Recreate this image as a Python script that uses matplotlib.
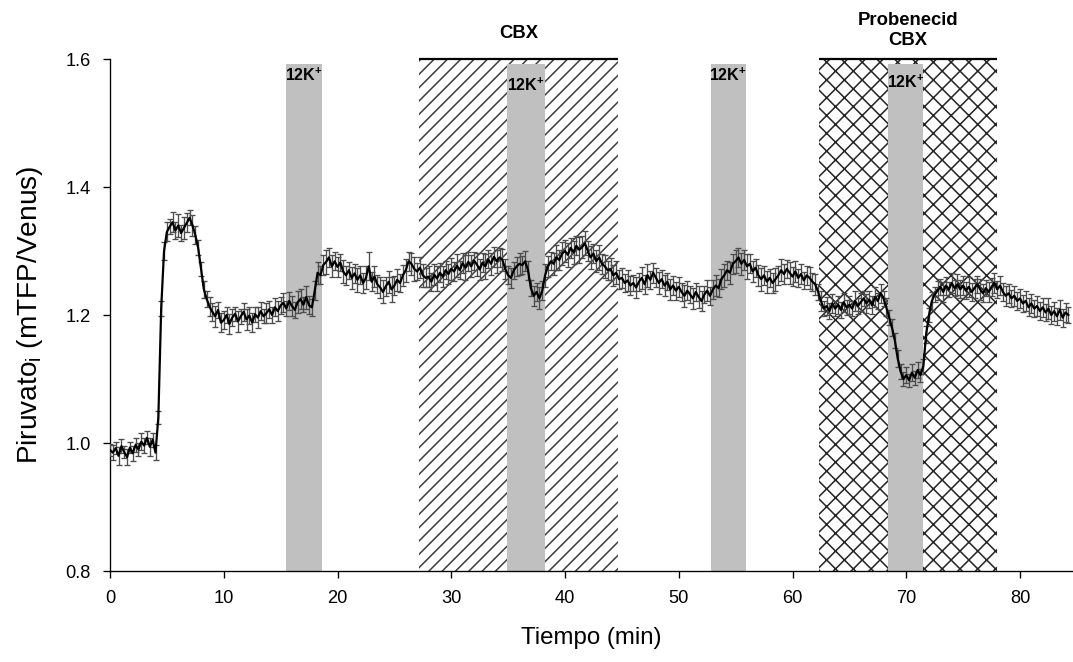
import matplotlib
matplotlib.use("Agg")
import matplotlib.pyplot as plt
import numpy as np

plt.rcParams["font.family"] = ["Liberation Sans", "DejaVu Sans"]
plt.rcParams["mathtext.fontset"] = "custom"
plt.rcParams["mathtext.rm"] = "Liberation Sans"
plt.rcParams["mathtext.bf"] = "Liberation Sans:bold"
plt.rcParams["hatch.linewidth"] = 0.7

dt = 0.25  # min between samples

piruvato = [
    0.989, 0.985, 0.992, 0.980, 0.995, 0.986, 0.978, 0.993, 0.984, 0.997, 0.990, 1.002, 0.996, 1.008, 0.994, 1.005, 0.985, 1.040, 1.210, 1.300,
    1.330, 1.338, 1.345, 1.332, 1.340, 1.328, 1.336, 1.344, 1.352, 1.340, 1.325, 1.305, 1.272, 1.240, 1.225, 1.213, 1.205, 1.198, 1.208, 1.188,
    1.192, 1.200, 1.186, 1.196, 1.202, 1.190, 1.198, 1.205, 1.193, 1.199, 1.188, 1.201, 1.196, 1.206, 1.198, 1.203, 1.209, 1.200, 1.212, 1.206,
    1.215, 1.219, 1.210, 1.222, 1.214, 1.208, 1.220, 1.225, 1.216, 1.228, 1.215, 1.212, 1.238, 1.266, 1.262, 1.278, 1.283, 1.290, 1.276, 1.284,
    1.275, 1.282, 1.268, 1.262, 1.270, 1.258, 1.265, 1.255, 1.262, 1.250, 1.258, 1.276, 1.252, 1.260, 1.248, 1.243, 1.236, 1.245, 1.252, 1.240,
    1.246, 1.255, 1.250, 1.262, 1.270, 1.284, 1.280, 1.272, 1.268, 1.274, 1.262, 1.258, 1.260, 1.252, 1.263, 1.257, 1.266, 1.260, 1.270, 1.264,
    1.272, 1.268, 1.277, 1.270, 1.281, 1.274, 1.283, 1.276, 1.285, 1.279, 1.271, 1.282, 1.276, 1.287, 1.280, 1.291, 1.284, 1.290, 1.286, 1.272,
    1.262, 1.258, 1.270, 1.276, 1.280, 1.278, 1.284, 1.270, 1.242, 1.230, 1.236, 1.226, 1.238, 1.262, 1.276, 1.284, 1.280, 1.290, 1.286, 1.296,
    1.300, 1.294, 1.305, 1.298, 1.308, 1.302, 1.306, 1.312, 1.300, 1.290, 1.296, 1.284, 1.290, 1.280, 1.276, 1.270, 1.272, 1.262, 1.266, 1.256,
    1.258, 1.250, 1.254, 1.246, 1.250, 1.243, 1.252, 1.258, 1.248, 1.262, 1.255, 1.266, 1.258, 1.250, 1.256, 1.246, 1.252, 1.240, 1.246, 1.238,
    1.244, 1.236, 1.230, 1.238, 1.232, 1.226, 1.236, 1.228, 1.222, 1.232, 1.238, 1.230, 1.240, 1.246, 1.242, 1.256, 1.262, 1.270, 1.266, 1.280,
    1.284, 1.290, 1.280, 1.286, 1.276, 1.280, 1.268, 1.274, 1.262, 1.256, 1.262, 1.252, 1.258, 1.250, 1.256, 1.262, 1.270, 1.264, 1.272, 1.266,
    1.260, 1.268, 1.258, 1.264, 1.254, 1.262, 1.258, 1.252, 1.248, 1.236, 1.222, 1.210, 1.214, 1.206, 1.218, 1.210, 1.216, 1.208, 1.220, 1.212,
    1.216, 1.210, 1.222, 1.214, 1.220, 1.226, 1.218, 1.224, 1.215, 1.228, 1.222, 1.234, 1.226, 1.212, 1.196, 1.180, 1.160, 1.132, 1.112, 1.100,
    1.106, 1.098, 1.110, 1.102, 1.114, 1.106, 1.120, 1.170, 1.200, 1.222, 1.232, 1.238, 1.244, 1.236, 1.246, 1.240, 1.250, 1.242, 1.248, 1.240,
    1.246, 1.238, 1.244, 1.236, 1.242, 1.248, 1.240, 1.234, 1.242, 1.236, 1.244, 1.250, 1.240, 1.246, 1.236, 1.230, 1.234, 1.226, 1.230, 1.222,
    1.226, 1.218, 1.222, 1.212, 1.218, 1.210, 1.214, 1.206, 1.212, 1.204, 1.210, 1.200, 1.206, 1.198, 1.208, 1.196, 1.204, 1.200,
]

error = [
    0.010, 0.012, 0.009, 0.014, 0.011, 0.010, 0.013, 0.009, 0.012, 0.011, 0.010, 0.013, 0.012, 0.010, 0.014, 0.011, 0.012, 0.010, 0.012, 0.014,
    0.015, 0.012, 0.016, 0.014, 0.018, 0.013, 0.017, 0.015, 0.012, 0.016, 0.014, 0.012, 0.011, 0.013, 0.012, 0.015, 0.014, 0.016, 0.013, 0.015,
    0.014, 0.012, 0.015, 0.013, 0.011, 0.016, 0.012, 0.014, 0.017, 0.013, 0.015, 0.012, 0.016, 0.014, 0.011, 0.015, 0.013, 0.012, 0.014, 0.016,
    0.013, 0.015, 0.012, 0.014, 0.016, 0.013, 0.017, 0.015, 0.012, 0.018, 0.014, 0.013, 0.015, 0.017, 0.014, 0.016, 0.019, 0.015, 0.017, 0.014,
    0.016, 0.014, 0.018, 0.015, 0.013, 0.017, 0.015, 0.019, 0.014, 0.016, 0.018, 0.022, 0.015, 0.017, 0.014, 0.016, 0.018, 0.015, 0.017, 0.019,
    0.015, 0.017, 0.014, 0.016, 0.018, 0.015, 0.017, 0.019, 0.014, 0.016, 0.018, 0.015, 0.017, 0.014, 0.016, 0.019, 0.015, 0.017, 0.014, 0.016,
    0.017, 0.015, 0.018, 0.014, 0.016, 0.019, 0.015, 0.017, 0.014, 0.018, 0.016, 0.015, 0.019, 0.014, 0.017, 0.016, 0.018, 0.015, 0.017, 0.016,
    0.014, 0.016, 0.013, 0.015, 0.017, 0.014, 0.016, 0.015, 0.013, 0.016, 0.014, 0.017, 0.015, 0.018, 0.016, 0.014, 0.017, 0.019, 0.015, 0.018,
    0.017, 0.019, 0.016, 0.018, 0.015, 0.020, 0.017, 0.019, 0.016, 0.018, 0.015, 0.017, 0.019, 0.016, 0.018, 0.015, 0.017, 0.016, 0.018, 0.015,
    0.016, 0.014, 0.017, 0.015, 0.013, 0.016, 0.014, 0.017, 0.015, 0.018, 0.014, 0.016, 0.015, 0.017, 0.014, 0.016, 0.013, 0.017, 0.015, 0.014,
    0.016, 0.014, 0.017, 0.015, 0.013, 0.016, 0.014, 0.017, 0.015, 0.013, 0.016, 0.014, 0.015, 0.017, 0.014, 0.016, 0.018, 0.015, 0.017, 0.016,
    0.018, 0.015, 0.017, 0.016, 0.019, 0.015, 0.017, 0.014, 0.016, 0.018, 0.015, 0.017, 0.014, 0.016, 0.018, 0.015, 0.017, 0.016, 0.014, 0.017,
    0.015, 0.017, 0.014, 0.016, 0.013, 0.015, 0.017, 0.014, 0.016, 0.013, 0.015, 0.012, 0.014, 0.013, 0.015, 0.012, 0.014, 0.013, 0.015, 0.012,
    0.014, 0.012, 0.015, 0.013, 0.014, 0.012, 0.015, 0.013, 0.014, 0.016, 0.013, 0.015, 0.012, 0.014, 0.012, 0.013, 0.012, 0.014, 0.012, 0.011,
    0.012, 0.010, 0.013, 0.011, 0.012, 0.010, 0.012, 0.013, 0.011, 0.014, 0.012, 0.015, 0.013, 0.016, 0.014, 0.012, 0.015, 0.013, 0.016, 0.014,
    0.015, 0.013, 0.016, 0.014, 0.015, 0.013, 0.016, 0.014, 0.013, 0.015, 0.014, 0.016, 0.013, 0.015, 0.014, 0.016, 0.015, 0.013, 0.016, 0.014,
    0.015, 0.013, 0.016, 0.014, 0.015, 0.013, 0.016, 0.014, 0.015, 0.013, 0.016, 0.014, 0.015, 0.013, 0.016, 0.014, 0.015, 0.013,
]

# treatment periods (min)
k_pulses = [(15.5, 18.6), (34.9, 38.2), (52.8, 55.9), (68.4, 71.5)]
k_label_y = [1.575, 1.559, 1.575, 1.564]
cbx = (27.2, 44.7)
probenecid_cbx = (62.3, 78.0)


def main():
    W, H, dpi = 1073, 662, 160
    tiempo = np.arange(len(piruvato)) * dt

    fig = plt.figure(figsize=(W / dpi, H / dpi), dpi=dpi)
    ax = fig.add_axes([110 / W, 1 - 571 / H, 963 / W, 512 / H])
    ax.set_xlim(0, 963 / 11.375)
    ax.set_ylim(0.8, 1.6)

    # drug periods, hatched
    ax.axvspan(*cbx, facecolor="white", edgecolor="0.25", hatch="////", linewidth=0, zorder=0.5)
    ax.axvspan(*probenecid_cbx, facecolor="white", edgecolor="0.15", hatch="xxx", linewidth=0, zorder=0.5)
    for x0, x1 in (cbx, probenecid_cbx):
        ax.hlines(1.6, x0, x1, color="black", lw=1.0, clip_on=False, zorder=4)

    ax.text(sum(cbx) / 2, 1.64, "CBX", ha="center", va="center",
            fontsize=8.3, fontweight="bold")
    ax.text(sum(probenecid_cbx) / 2, 1.645, "Probenecid\nCBX", ha="center", va="center",
            fontsize=8.3, fontweight="bold", linespacing=1.25)

    # 12 mM K+ pulses
    for (x0, x1), ly in zip(k_pulses, k_label_y):
        ax.axvspan(x0, x1, ymin=0, ymax=0.99, color="#c0c0c0", lw=0, zorder=1)
        ax.text((x0 + x1) / 2, ly, r"$\mathbf{12K}^{\mathbf{+}}$", ha="center", va="center",
                fontsize=7.2, zorder=5)

    _, caps, bars = ax.errorbar(tiempo, piruvato, yerr=error, color="black", lw=1.0,
                                ecolor="0.3", elinewidth=0.6, capsize=1.3, capthick=0.6,
                                zorder=3)
    for c in caps:
        c.set_color("black")

    ax.spines["top"].set_visible(False)
    ax.spines["right"].set_visible(False)
    for s in ("left", "bottom"):
        ax.spines[s].set_linewidth(0.6)
    ax.set_xticks([0, 10, 20, 30, 40, 50, 60, 70, 80])
    ax.set_yticks([0.8, 1.0, 1.2, 1.4, 1.6])
    ax.set_yticklabels(["0.8", "1.0", "1.2", "1.4", "1.6"])
    ax.tick_params(direction="out", length=3.2, width=0.6, pad=5.5, labelsize=8.2)

    ax.set_xlabel("Tiempo (min)", fontsize=10.8, labelpad=9)
    ax.set_ylabel(r"Piruvato$_\mathregular{i}$ (mTFP/Venus)", fontsize=12.6, labelpad=9)

    fig.savefig("out.png", dpi=dpi)


if __name__ == "__main__":
    main()
